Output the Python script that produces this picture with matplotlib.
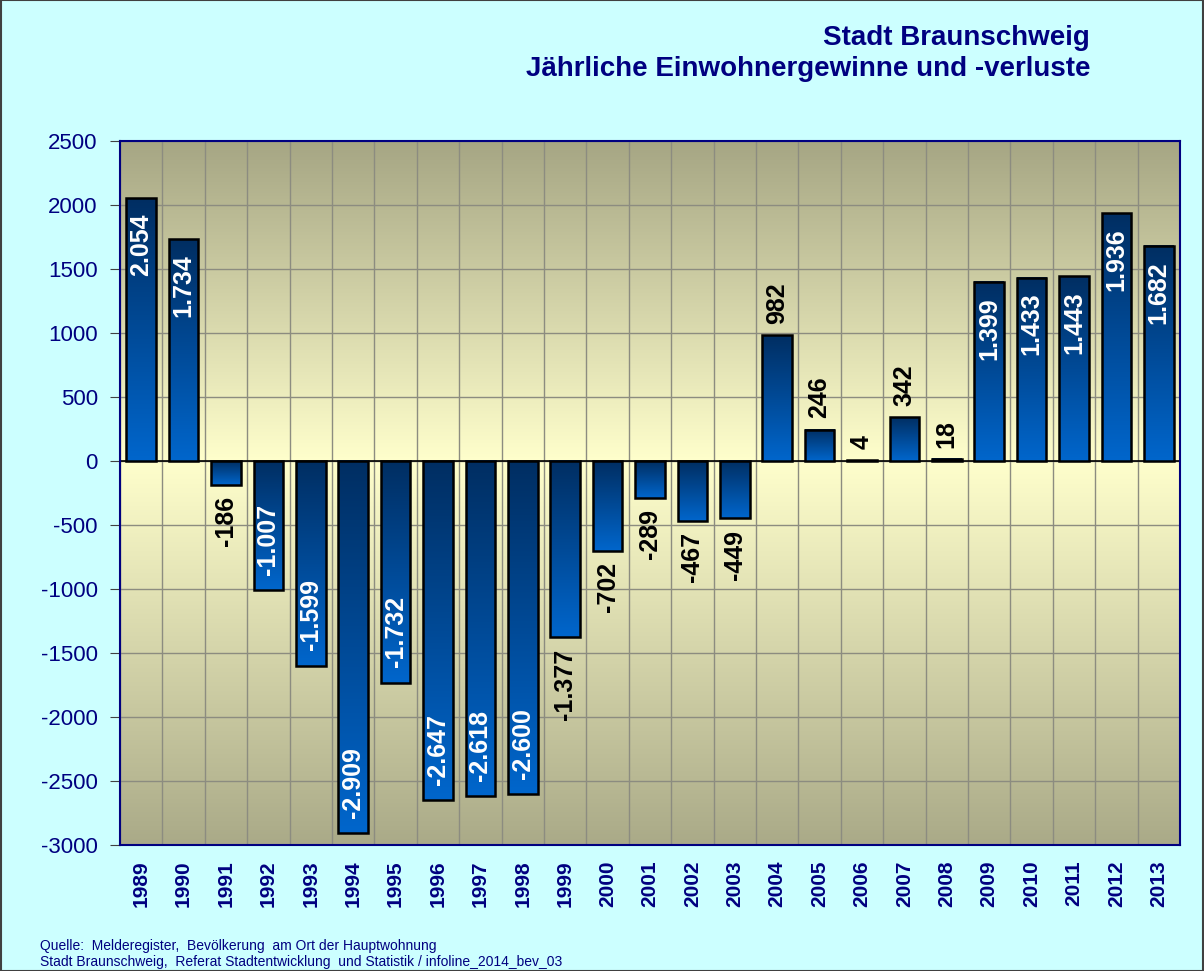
import numpy as np
import matplotlib
matplotlib.use("Agg")
import matplotlib.pyplot as plt
from matplotlib.colors import LinearSegmentedColormap
from matplotlib.patches import Rectangle

plt.rcParams["font.family"] = ["Liberation Sans", "DejaVu Sans"]
plt.rcParams["axes.unicode_minus"] = False

years = list(range(1989, 2014))
values = [2054, 1734, -186, -1007, -1599, -2909, -1732, -2647, -2618, -2600,
          -1377, -702, -289, -467, -449, 982, 246, 4, 342, 18,
          1399, 1433, 1443, 1936, 1682]
# True -> label sits inside the bar (white), False -> outside (black)
label_inside = [True, True, False, True, True, True, True, True, True, True,
                False, False, False, False, False, False, False, False, False, False,
                True, True, True, True, True]

navy = "#000080"
fig = plt.figure(figsize=(12.04, 9.71), dpi=100, facecolor="#CCFFFF")
ax = fig.add_axes([120 / 1204, 1 - 845 / 971, 1060 / 1204, 704 / 971])

ymin, ymax = -3000, 2500
ax.set_xlim(-0.5, len(years) - 0.5)
ax.set_ylim(ymin, ymax)

# plot area background: khaki at top/bottom, pale yellow at zero
bg = LinearSegmentedColormap.from_list(
    "bg", [(0.0, "#AAAA88"), (3000 / 5500, "#FFFFCC"), (1.0, "#A6A684")])
ax.imshow(np.linspace(0, 1, 256).reshape(-1, 1), cmap=bg, origin="lower",
          extent=[-0.5, len(years) - 0.5, ymin, ymax], aspect="auto", zorder=0)

# grid
for k in range(len(years) + 1):
    ax.axvline(k - 0.5, color="#8C8C80", lw=1.0, zorder=1)
for yv in range(-3000, 2501, 500):
    ax.axhline(yv, color="#8C8C80", lw=1.0, zorder=1)
ax.axhline(0, color="black", lw=1.2, zorder=3)

# gradient bars
barcm = LinearSegmentedColormap.from_list("bar", ["#0066CC", "#002E62"])
grad = np.linspace(0, 1, 256).reshape(-1, 1)
w = 0.7
for i, v in enumerate(values):
    y0, y1 = min(0, v), max(0, v)
    ax.imshow(grad, cmap=barcm, origin="lower", aspect="auto",
              extent=[i - w / 2, i + w / 2, y0, y1], zorder=4)
    ax.add_patch(Rectangle((i - w / 2, y0), w, y1 - y0, fill=False,
                           ec="black", lw=1.8, zorder=5))

    txt = f"{v:,}".replace(",", ".")
    if label_inside[i]:
        off = -11 if v > 0 else 11
        col = "white"
    else:
        off = 8 if v > 0 else -8
        col = "black"
    va = "top" if off < 0 else "bottom"
    ax.annotate(txt, (i, v), xytext=(0, off), textcoords="offset points",
                rotation=90, ha="center", va=va, color=col,
                fontsize=18, fontweight="bold", zorder=6)

ax.set_xticks(range(len(years)))
ax.set_xticklabels([str(y) for y in years], rotation=90, fontsize=15,
                   fontweight="bold", color=navy)
ax.tick_params(axis="x", length=0, pad=11)
ax.set_yticks(range(-3000, 2501, 500))
ax.tick_params(axis="y", labelsize=16, labelcolor=navy, length=7,
               color="#404040", direction="out", pad=9)
for s in ax.spines.values():
    s.set_color(navy)
    s.set_linewidth(1.5)
    s.set_zorder(7)

fig.text(1090 / 1204, 1 - 38 / 971, "Stadt Braunschweig", ha="right",
         va="center", fontsize=20, fontweight="bold", color=navy)
fig.text(1090 / 1204, 1 - 69 / 971, "Jährliche Einwohnergewinne und -verluste",
         ha="right", va="center", fontsize=20, fontweight="bold", color=navy)

fig.text(40 / 1204, 1 - 946 / 971,
         "Quelle:  Melderegister,  Bevölkerung  am Ort der Hauptwohnung",
         ha="left", va="center", fontsize=10, color=navy)
fig.text(40 / 1204, 1 - 962 / 971,
         "Stadt Braunschweig,  Referat Stadtentwicklung  und Statistik / infoline_2014_bev_03",
         ha="left", va="center", fontsize=10, color=navy)

fig.add_artist(Rectangle((0.0005, 0.0005), 0.999, 0.999, transform=fig.transFigure,
                         fill=False, ec="#404040", lw=1.5))

fig.savefig("out.png", dpi=100, facecolor=fig.get_facecolor())
